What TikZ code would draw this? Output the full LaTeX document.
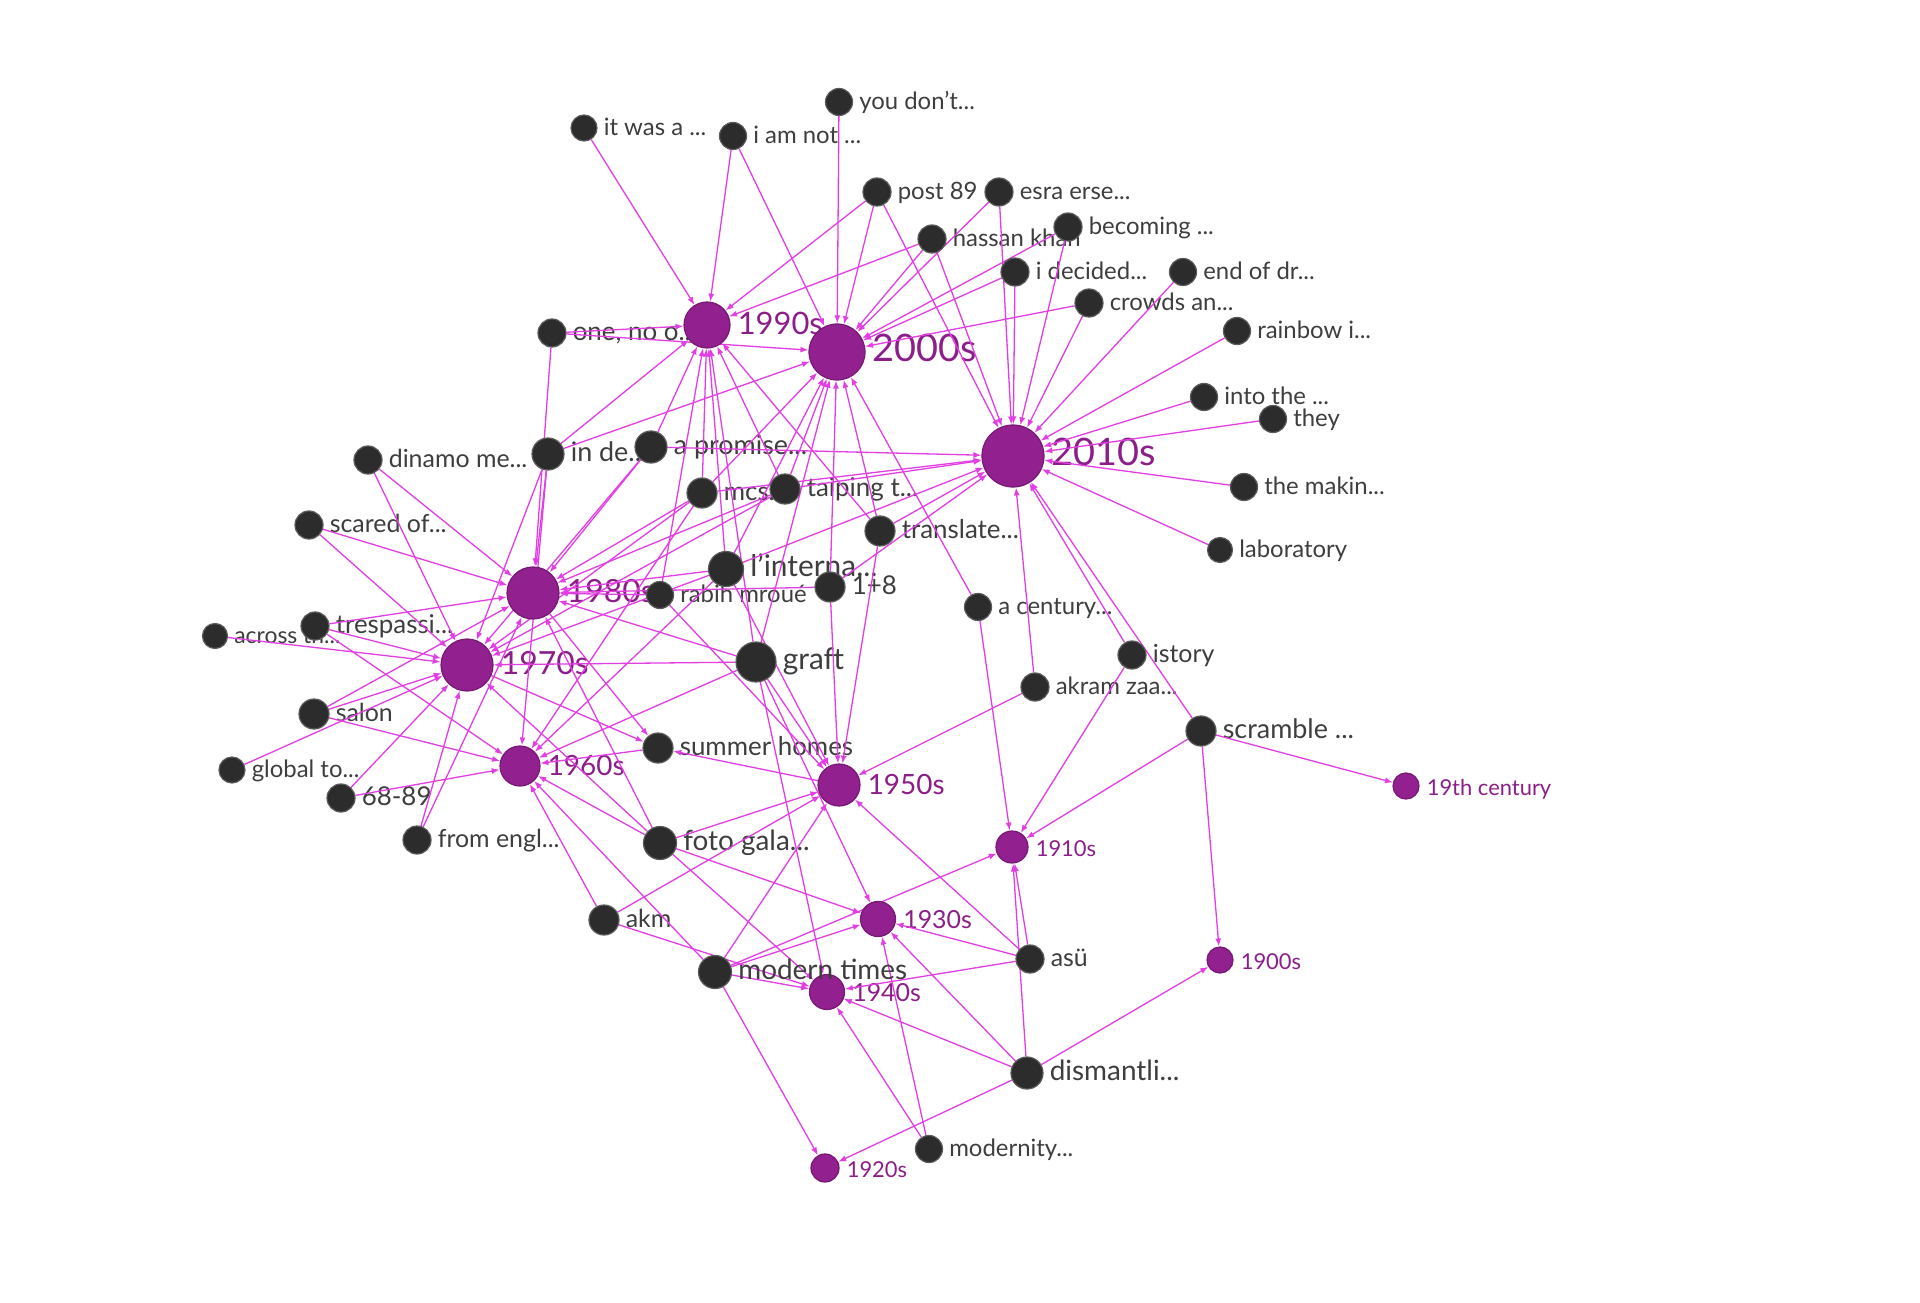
\documentclass[tikz,border=0pt]{standalone}
\usepackage{fontspec}
\setmainfont{Lato}
\usetikzlibrary{arrows.meta}
\definecolor{lnkc}{RGB}{226,62,228}
\definecolor{dkfill}{RGB}{44,44,44}
\definecolor{dkline}{RGB}{90,90,90}
\definecolor{ppfill}{RGB}{146,32,142}
\definecolor{ppline}{RGB}{118,24,116}
\definecolor{lbcol}{RGB}{62,62,62}
\definecolor{plcol}{RGB}{140,30,137}
\pgfdeclarelayer{bgl}
\pgfdeclarelayer{lab}
\pgfdeclarelayer{edg}
\pgfdeclarelayer{topl}
\pgfsetlayers{bgl,lab,edg,main,topl}
\tikzset{
  dk/.style={circle, fill=dkfill, draw=dkline, line width=1.2bp, inner sep=0pt, minimum size=#1},
  pp/.style={circle, fill=ppfill, draw=ppline, line width=1.2bp, inner sep=0pt, minimum size=#1},
  lb/.style={anchor=west, inner sep=0pt, text height=0.5em, text depth=0pt, text=lbcol, yshift=-5bp, font=\fontsize{#1}{#1}\selectfont},
  pl/.style={anchor=west, inner sep=0pt, text height=0.72em, text depth=0pt, text=plcol, yshift=-6bp, font=\fontsize{#1}{#1}\selectfont},
  lnk/.style={draw=lnkc, line width=1.3bp, -{Latex[length=8bp,width=6bp]}},
}
\newcommand\dnd[6]{%
  \node[dk=#4bp] (#1) at (#2,#3) {};
  \begin{pgfonlayer}{lab}\node[lb=#5] (L#1) at ([xshift=6bp]#1.east) {#6};\end{pgfonlayer}}
\newcommand\pnd[6]{%
  \node[pp=#4bp] (#1) at (#2,#3) {};
  \begin{pgfonlayer}{lab}\node[pl=#5] (L#1) at ([xshift=7bp]#1.east) {#6};\end{pgfonlayer}}
\begin{document}
\begin{tikzpicture}[x=1bp,y=-1bp]
\begin{pgfonlayer}{bgl}
\fill[white] (0,0) rectangle (1920,1303);
\end{pgfonlayer}
\useasboundingbox (0,0) rectangle (1920,1303);
% dark nodes
\dnd{itwas}{584}{128}{26}{24}{it was a ...}
\dnd{iamnot}{733}{136}{27}{24}{i am not ...}
\dnd{youdont}{839}{102}{27}{24}{you don't...}
\dnd{post}{877}{192}{28}{24}{post 89}
\dnd{esra}{999}{192}{28}{24}{esra erse...}
\dnd{hassan}{932}{239}{28}{24}{hassan khan}
\dnd{becoming}{1068}{227}{28}{24}{becoming ...}
\dnd{idecided}{1015}{272}{28}{24}{i decided...}
\dnd{endofdr}{1183}{272}{27}{24}{end of dr...}
\dnd{crowds}{1089}{303}{28}{24}{crowds an...}
\dnd{rainbow}{1237}{331}{27}{24}{rainbow i...}
\dnd{intothe}{1204}{397}{27}{24}{into the ...}
\dnd{they}{1273}{419}{27}{24}{they}
\dnd{makin}{1244}{487}{27}{24}{the makin...}
\dnd{laboratory}{1220}{550}{25}{24}{laboratory}
\dnd{oneno}{552}{333}{28}{26}{one, no o...}
\dnd{dinamo}{368}{460}{28}{25}{dinamo me...}
\dnd{inde}{548}{454}{32}{27}{in de...}
\dnd{promise}{651}{447}{32}{27}{a promise...}
\dnd{mc}{702}{493}{30}{26}{mcs...}
\dnd{taiping}{785}{489}{30}{26}{taiping t...}
\dnd{translate}{880}{531}{30}{26}{translate...}
\dnd{scared}{309}{525}{28}{25}{scared of...}
\dnd{linterna}{726}{569}{35}{30}{l'interna...}
\dnd{rabih}{660}{595}{27}{24}{rabih mroué}
\dnd{oneeight}{830}{587}{30}{26}{1+8}
\dnd{century}{978}{607}{27}{24}{a century...}
\dnd{across}{215}{636}{25}{23}{across th...}
\dnd{trespassi}{315}{626}{28}{26}{trespassi...}
\dnd{graft}{756}{662}{40}{30}{graft}
\dnd{istory}{1132}{655}{28}{25}{istory}
\dnd{akram}{1035}{687}{28}{24}{akram zaa...}
\dnd{scramble}{1201}{731}{30}{27}{scramble ...}
\dnd{salon}{314}{714}{30}{25}{salon}
\dnd{globalto}{232}{770}{26}{24}{global to...}
\dnd{sixtyeight}{341}{798}{28}{26}{68-89}
\dnd{summer}{658}{748}{30}{26}{summer homes}
\dnd{fromengl}{417}{840}{28}{25}{from engl...}
\dnd{foto}{660}{843}{33}{28}{foto gala...}
\dnd{akm}{604}{920}{30}{25}{akm}
\dnd{asu}{1030}{959}{28}{25}{asü}
\dnd{dismantli}{1027}{1073}{32}{28}{dismantli...}
\dnd{modernity}{929}{1149}{27}{24}{modernity...}
\node[dk=33bp] (modern) at (715,972) {};
\begin{pgfonlayer}{topl}\node[lb=28] (Lmodern) at ([xshift=6bp]modern.east) {modern times};\end{pgfonlayer}
% decade nodes
\pnd{d2010}{1013}{456}{62}{38}{2010s}
\pnd{d2000}{837}{352}{56}{38}{2000s}
\pnd{d1990}{707}{325}{46}{31}{1990s}
\pnd{d1980}{533}{593}{52}{32}{1980s}
\pnd{d1970}{467}{665}{52}{32}{1970s}
\pnd{d1960}{520}{766}{40}{28}{1960s}
\pnd{d1950}{839}{785}{42}{28}{1950s}
\pnd{d1930}{878}{919}{35}{25}{1930s}
\pnd{d1940}{827}{992}{35}{25}{1940s}
\pnd{d1910}{1012}{847}{32}{22}{1910s}
\pnd{d1920}{825}{1168}{28}{22}{1920s}
\pnd{d1900}{1220}{960}{26}{22}{1900s}
\pnd{d19th}{1406}{786}{26}{22}{19th century}
% connectors
\begin{pgfonlayer}{edg}
\foreach \s/\t in {itwas/d1990, iamnot/d1990, post/d1990, hassan/d1990, oneno/d1990, inde/d1990, promise/d1990, mc/d1990, taiping/d1990, translate/d1990, linterna/d1990, rabih/d1990, graft/d1990,
iamnot/d2000, youdont/d2000, post/d2000, esra/d2000, hassan/d2000, becoming/d2000, idecided/d2000, crowds/d2000, oneno/d2000, inde/d2000, mc/d2000, taiping/d2000, translate/d2000, linterna/d2000, oneeight/d2000, century/d2000, graft/d2000,
post/d2010, esra/d2010, hassan/d2010, becoming/d2010, idecided/d2010, crowds/d2010, endofdr/d2010, rainbow/d2010, intothe/d2010, they/d2010, makin/d2010, laboratory/d2010, promise/d2010, taiping/d2010, translate/d2010, linterna/d2010, oneeight/d2010, mc/d2010, akram/d2010, istory/d2010, scramble/d2010,
oneno/d1980, inde/d1980, promise/d1980, mc/d1980, taiping/d1980, linterna/d1980, rabih/d1980, oneeight/d1980, dinamo/d1980, scared/d1980, trespassi/d1980, salon/d1980, fromengl/d1980, foto/d1980, graft/d1980,
inde/d1970, promise/d1970, mc/d1970, linterna/d1970, taiping/d1970, dinamo/d1970, scared/d1970, across/d1970, trespassi/d1970, salon/d1970, globalto/d1970, sixtyeight/d1970, fromengl/d1970, foto/d1970, graft/d1970,
inde/d1960, mc/d1960, linterna/d1960, trespassi/d1960, salon/d1960, sixtyeight/d1960, foto/d1960, akm/d1960, modern/d1960, summer/d1960, graft/d1960,
d1980/summer, d1970/summer, d1950/summer,
graft/d1950, linterna/d1950, rabih/d1950, oneeight/d1950, translate/d1950, akram/d1950, asu/d1950, foto/d1950, akm/d1950, modern/d1950,
graft/d1930, foto/d1930, modern/d1930, asu/d1930, dismantli/d1930, modernity/d1930,
graft/d1940, foto/d1940, akm/d1940, modern/d1940, asu/d1940, dismantli/d1940, modernity/d1940,
century/d1910, istory/d1910, scramble/d1910, asu/d1910, modern/d1910, dismantli/d1910,
modern/d1920, dismantli/d1920,
scramble/d1900, dismantli/d1900,
scramble/d19th}
  \draw[lnk] (\s) -- (\t);
\end{pgfonlayer}
\end{tikzpicture}
\end{document}
